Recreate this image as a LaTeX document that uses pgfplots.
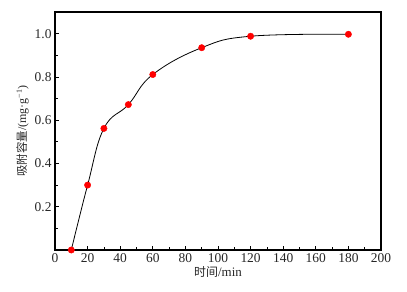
\documentclass[border=0pt]{standalone}
\usepackage{pgfplots}
\pgfplotsset{compat=1.18}
\usepackage{fontspec}
\setmainfont{Liberation Serif}
\newfontfamily\cjk{Noto Sans CJK SC}
\begin{document}
\begin{tikzpicture}
\begin{axis}[
  scale only axis,
  width=326bp, height=238bp,
  xmin=0, xmax=200, ymin=0, ymax=1.1,
  xtick={0,20,...,200},
  ytick={0.2,0.4,0.6,0.8,1.0},
  minor xtick={10,30,...,190},
  minor ytick={0.1,0.3,0.5,0.7,0.9},
  tick align=inside,
  xtick pos=bottom, ytick pos=left,
  major tick length=4bp, minor tick length=2.5bp,
  axis line style={line width=1.1bp},
  tick style={line width=0.8bp, black},
  tick label style={font=\fontsize{13.5}{15}\selectfont, text=black!85},
  yticklabel style={/pgf/number format/fixed, /pgf/number format/fixed zerofill, /pgf/number format/precision=1},
  /pgf/number format/assume math mode=true,
  xlabel={{\cjk\fontsize{12}{14}\selectfont 时间}/min},
  ylabel={{\cjk\fontsize{11.5}{13}\selectfont 吸附容量}/(mg·g\textsuperscript{−1})},
  xlabel style={font=\fontsize{13}{15}\selectfont, text=black!85, yshift=3bp},
  ylabel style={font=\fontsize{12}{14}\selectfont, text=black!85, yshift=-1bp},
  clip=false,
]
\addplot[black, line width=0.8bp, smooth, tension=0.7] coordinates {
  (10,0) (20,0.300) (30,0.562) (45,0.672) (60,0.811) (90,0.935) (120,0.988) (180,0.997)
};
\addplot[only marks, mark=*, mark size=3.2bp, color=red, mark options={fill=red, draw=red}] coordinates {
  (10,0) (20,0.300) (30,0.562) (45,0.672) (60,0.811) (90,0.935) (120,0.988) (180,0.997)
};
\end{axis}
\path ([shift={(-55bp,-42bp)}]current axis.south west) rectangle ([shift={(26bp,12bp)}]current axis.north east);
\end{tikzpicture}
\end{document}
